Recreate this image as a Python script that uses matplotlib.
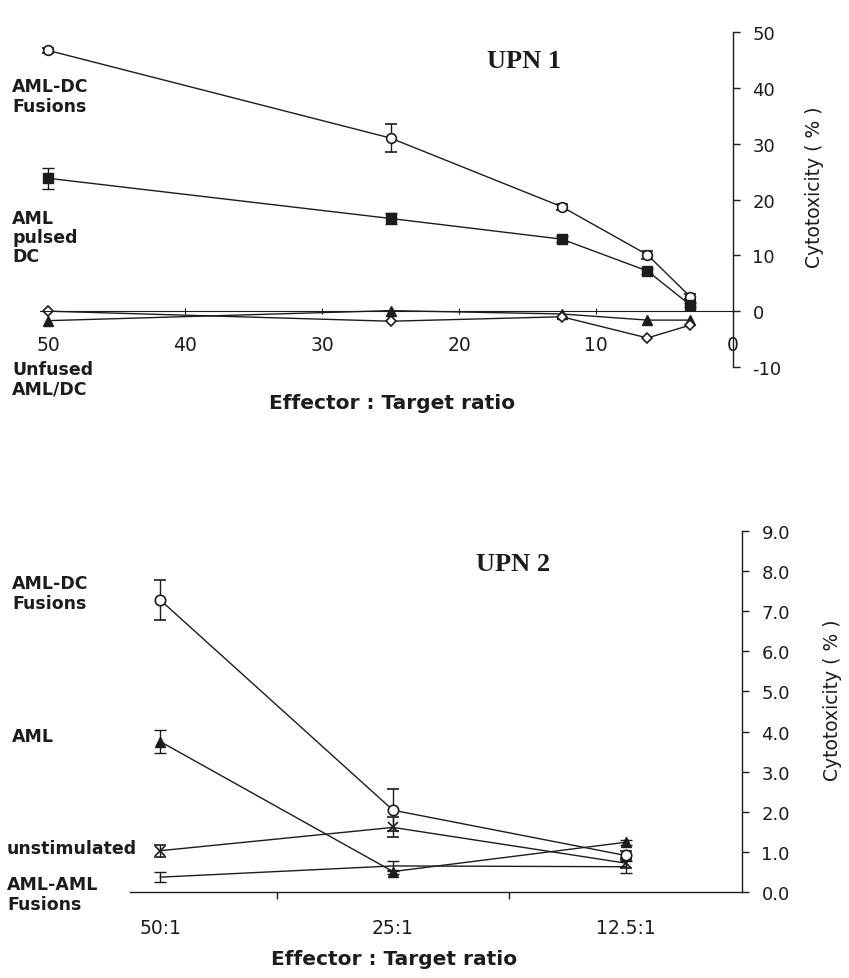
import matplotlib
matplotlib.use('Agg')
import matplotlib.pyplot as plt
from matplotlib.ticker import FixedLocator

# UPN 1 data (effector : target ratio as number)
ratio_upn1 = [50, 25, 12.5, 6.25, 3.125]
fusions_1 = [46.7, 31.0, 18.7, 10.1, 2.6]
fusions_1_err = [0.5, 2.5, 0.5, 0.7, 0.4]
pulsed_1 = [23.8, 16.6, 12.9, 7.2, 1.1]
pulsed_1_err = [1.9, 1.0, 0.5, 0.5, 0.3]
unfused_dc_1 = [0.0, -1.8, -1.0, -4.8, -2.5]
unfused_aml_1 = [-1.7, 0.1, -0.5, -1.6, -1.6]
x_ticks_1 = [50, 40, 30, 20, 10, 0]
y_ticks_1 = [-10, 0, 10, 20, 30, 40, 50]

# UPN 2 data (categorical ratios)
ratio_upn2 = ['50:1', '25:1', '12.5:1']
fusions_2 = [7.28, 2.04, 0.91]
fusions_2_err = [0.5, 0.52, 0.12]
aml_2 = [3.75, 0.51, 1.24]
aml_2_err = [0.28, 0.05, 0.06]
unstim_2 = [1.03, 1.61, 0.72]
unstim_2_err = [0.15, 0.25, 0.12]
amlaml_2 = [0.37, 0.65, 0.63]
amlaml_2_err = [0.12, 0.12, 0.15]
y_ticks_2 = [0, 1, 2, 3, 4, 5, 6, 7, 8, 9]

ink = '#1c1c1c'
sans = 'DejaVu Sans'
serif = 'Liberation Serif'

W, H = 849, 979
fig = plt.figure(figsize=(W / 100, H / 100), dpi=100)


def px(x, y):
    # figure pixel (from top-left) -> figure fraction
    return x / W, 1 - y / H


def style_right_axis(ax):
    for s in ['left', 'top']:
        ax.spines[s].set_visible(False)
    for s in ['right', 'bottom']:
        ax.spines[s].set_color(ink)
        ax.spines[s].set_linewidth(1.0)
    ax.yaxis.tick_right()
    ax.tick_params(axis='y', direction='out', length=5, width=1, colors=ink,
                   labelsize=13, pad=9)
    ax.set_facecolor('none')


kw = dict(color=ink, lw=1.0, capsize=4, elinewidth=1, capthick=1)

# ---------------- UPN 1 ----------------
ax1 = fig.add_axes([40 / W, 1 - 368 / H, 693 / W, 335 / H])
ax1.errorbar(ratio_upn1, fusions_1, yerr=fusions_1_err, marker='o', ms=7,
             mfc='white', mec=ink, mew=1.2, **kw)
ax1.errorbar(ratio_upn1, pulsed_1, yerr=pulsed_1_err, marker='s', ms=7,
             mfc=ink, mec=ink, **kw)
ax1.plot(ratio_upn1, unfused_aml_1, marker='^', ms=6.5, mfc=ink, mec=ink,
         color=ink, lw=1.0)
ax1.plot(ratio_upn1, unfused_dc_1, marker='D', ms=5.5, mfc='white', mec=ink,
         mew=1.2, color=ink, lw=1.0)

ax1.set_xlim(50.6, 0)
ax1.set_ylim(-10, 50)
style_right_axis(ax1)
ax1.spines['bottom'].set_position(('data', 0))
ax1.spines['bottom'].set_linewidth(0.8)
ax1.set_xticks(x_ticks_1)
ax1.set_yticks(y_ticks_1)
ax1.set_yticklabels([str(v) for v in y_ticks_1])
ax1.set_xticklabels([str(v) for v in x_ticks_1])
ax1.tick_params(axis='x', direction='inout', length=5, width=0.8, colors=ink,
                labelsize=13.5, pad=15)

# ---------------- UPN 2 ----------------
ax2 = fig.add_axes([130 / W, 1 - 893 / H, 612 / W, 361 / H])
pos = list(range(len(ratio_upn2)))
ax2.errorbar(pos, fusions_2, yerr=fusions_2_err, marker='o', ms=7.5,
             mfc='white', mec=ink, mew=1.2, **kw)
ax2.errorbar(pos, aml_2, yerr=aml_2_err, marker='^', ms=7,
             mfc=ink, mec=ink, **kw)
ax2.errorbar(pos, unstim_2, yerr=unstim_2_err, marker='x', ms=6.5,
             mew=1.2, mec=ink, **kw)
ax2.errorbar(pos, amlaml_2, yerr=amlaml_2_err, marker='', **kw)

ax2.set_xlim(-0.13, 2.5)
ax2.set_ylim(0, 9)
style_right_axis(ax2)
ax2.set_yticks(y_ticks_2)
ax2.set_yticklabels(['%.1f' % v for v in y_ticks_2])
ax2.set_xticks(pos)
ax2.set_xticklabels(ratio_upn2)
ax2.xaxis.set_minor_locator(FixedLocator([0.5, 1.5]))
ax2.tick_params(axis='x', which='major', length=0, colors=ink,
                labelsize=13.5, pad=19)
ax2.tick_params(axis='x', which='minor', direction='out', length=5,
                width=1, colors=ink)

# ---------------- titles, axis titles ----------------
fig.text(*px(524, 62), 'UPN 1', ha='center', va='center', fontfamily=serif,
         fontweight='bold', fontsize=19, color=ink)
fig.text(*px(513, 565), 'UPN 2', ha='center', va='center', fontfamily=serif,
         fontweight='bold', fontsize=19, color=ink)

for (x, y) in [(815, 187), (832, 700)]:
    fig.text(*px(x, y), 'Cytotoxicity ( % )', rotation=90, ha='center',
             va='center', fontsize=13.5, color=ink)

for (x, y) in [(392, 404), (394, 960)]:
    fig.text(*px(x, y), 'Effector : Target ratio', ha='center', va='center',
             fontsize=14.5, fontweight='bold', color=ink)

# ---------------- side labels ----------------
def side(x, y, s):
    fig.text(*px(x, y), s, ha='left', va='center', fontsize=12.5,
             fontweight='bold', color=ink, linespacing=1.1)

side(12, 97, 'AML-DC\nFusions')
side(12, 238, 'AML\npulsed\nDC')
side(12, 380, 'Unfused\nAML/DC')
side(12, 594, 'AML-DC\nFusions')
side(12, 737, 'AML')
side(7, 849, 'unstimulated')
side(7, 895, 'AML-AML\nFusions')

fig.savefig('out.png', dpi=100)
